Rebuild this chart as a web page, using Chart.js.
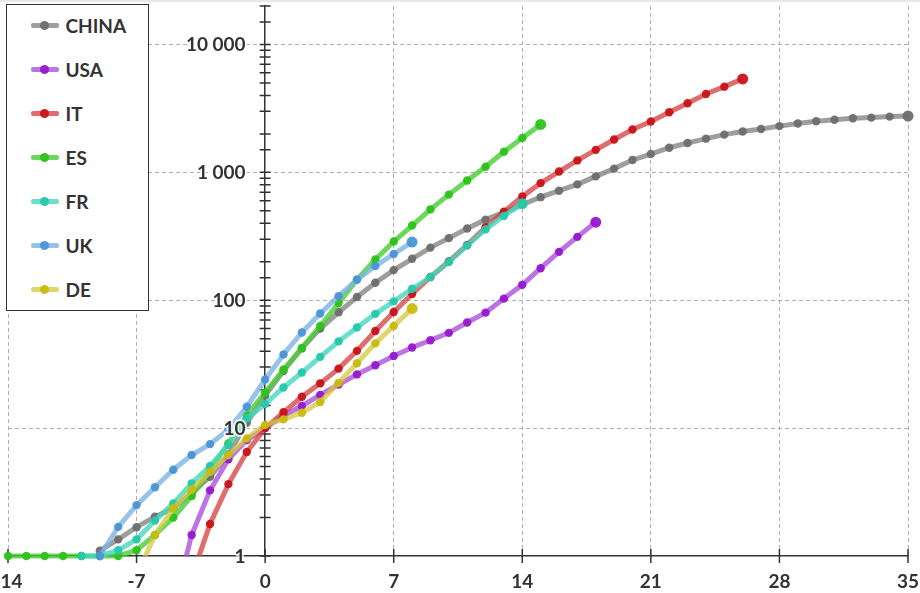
<!DOCTYPE html>
<html lang="en">
<head>
<meta charset="utf-8">
<title>Deaths by day, log scale</title>
<style>
  html, body { margin: 0; padding: 0; background: #fff; }
  #wrap { position: relative; width: 920px; height: 593px; }
  #topline { position: absolute; left: 0; top: 0; width: 920px; height: 2px; background: #e8e8e8; }
  #legend { position: absolute; left: 6px; top: 4px; width: 141px; height: 305px; background: #fff;
            border: 1.5px solid #333; font: bold 19px Lato, sans-serif; color: #333; }
  .item { position: absolute; left: 0; height: 24px; display: flex; align-items: center; }
  .swatch { position: relative; width: 28px; height: 5px; margin-left: 23.5px; margin-right: 7px; border-radius: 2px; }
  .dot { position: absolute; left: 9.5px; top: -2px; width: 9px; height: 9px; border-radius: 50%; }
</style>
</head>
<body>
<div id="wrap">
  <canvas id="chart"></canvas>
  <div id="topline"></div>
  <div id="legend"></div>
</div>

<script src="https://cdn.jsdelivr.net/npm/chart.js@4.4.1/dist/chart.umd.min.js"></script>
<script>
// days since the reference day (0 = 10th death); each series starts at its own day
const xTicks = [-14, -7, 0, 7, 14, 21, 28, 35];
const yTickLabels = ['1', '10', '100', '1 000', '10 000'];

const chinaStart = -9;
const china = [1.1, 1.35, 1.68, 2.03, 2.36, 3.1, 4.17, 6.2, 11, 18, 28, 42, 60, 80.5, 106, 137, 172, 211, 258, 306,
               364, 427, 486, 560, 640, 719, 806, 930, 1070, 1250, 1391, 1559, 1698, 1835, 1974, 2088, 2183, 2300,
               2410, 2510, 2580, 2650, 2680, 2730, 2760];

const usaStart = -5;
const usa = [0.4, 1.46, 3.26, 5.7, 8.06, 10, 12.5, 14.9, 18.2, 21.9, 26.3, 31, 36.7, 42.7, 48.7, 55.6, 67, 80,
             103, 132, 178, 239, 313, 408];

const itStart = -4;
const it = [0.68, 1.78, 3.65, 6.5, 10, 13.3, 17.6, 22.4, 29.2, 40.2, 57.5, 81, 112, 152, 201, 271, 372, 493, 648,
            824, 1015, 1240, 1500, 1806, 2166, 2500, 2950, 3470, 4100, 4680, 5380];

const esStart = -14;
const es = [1, 1, 1, 1, 1, 1, 1, 1.11, 1.46, 2.0, 2.94, 4.7, 7.6, 12.6, 19, 28.7, 42.4, 62.9, 95, 145, 208, 288,
            384, 514, 670, 864, 1107, 1450, 1856, 2371];

const frStart = -10;
const fr = [1, 1, 1.11, 1.35, 1.89, 2.58, 3.7, 5.05, 7.4, 11.9, 15.4, 20.8, 27.2, 36.1, 47.7, 61.3, 78.3, 98, 123,
            152, 199, 268, 358, 456, 569];

const ukStart = -9;
const uk = [1, 1.69, 2.5, 3.45, 4.73, 6.16, 7.5, 9.77, 14.7, 24, 37.7, 56, 78.7, 107.7, 145, 185, 230, 285];

const deStart = -7;
const de = [0.7, 1.46, 2.36, 3.3, 4.55, 6.15, 8.3, 10.6, 11.7, 13.2, 16, 22.6, 32.2, 46, 63, 86];

const series = [
  { name: 'CHINA', start: chinaStart, values: china, line: 'rgba(125,125,125,0.75)', point: 'rgba(110,110,110,0.95)' },
  { name: 'USA',   start: usaStart,   values: usa,   line: 'rgba(165,70,220,0.75)',  point: 'rgba(150,25,205,0.95)' },
  { name: 'IT',    start: itStart,    values: it,    line: 'rgba(212,60,60,0.75)',   point: 'rgba(200,20,25,0.95)' },
  { name: 'ES',    start: esStart,    values: es,    line: 'rgba(70,205,50,0.8)',    point: 'rgba(45,195,25,0.95)' },
  { name: 'FR',    start: frStart,    values: fr,    line: 'rgba(70,215,190,0.8)',   point: 'rgba(40,200,170,0.95)' },
  { name: 'UK',    start: ukStart,    values: uk,    line: 'rgba(125,180,228,0.8)',  point: 'rgba(75,150,215,0.95)' },
  { name: 'DE',    start: deStart,    values: de,    line: 'rgba(212,200,60,0.75)',  point: 'rgba(200,188,15,0.95)' }
];

// html legend (sits on top of the plot, like the original)
const legendEl = document.getElementById('legend');
series.forEach((s, i) => {
  const item = document.createElement('div');
  item.className = 'item';
  item.style.top = (20.5 + i * 44 - 12) + 'px';
  item.innerHTML = '<span class="swatch" style="background:' + s.line + '"><span class="dot" style="background:' +
                   s.point + '"></span></span><span>' + s.name + '</span>';
  legendEl.appendChild(item);
});

const isMajor = v => Math.abs(Math.log10(v) - Math.round(Math.log10(v))) < 1e-9;
const tickFont = { family: 'Lato', size: 19, weight: 'bold' };

// ticks that cross the axis lines on both sides
const crossTicks = {
  id: 'crossTicks',
  beforeDatasetsDraw(chart) {
    const { ctx, scales: { x, y } } = chart;
    const ax = x.getPixelForValue(0);
    const ay = y.bottom;
    ctx.save();
    ctx.strokeStyle = '#333';
    ctx.lineWidth = 1.5;
    ctx.beginPath();
    y.ticks.forEach(t => {
      const py = y.getPixelForValue(t.value);
      ctx.moveTo(ax - 5.5, py);
      ctx.lineTo(ax + 5.5, py);
    });
    x.ticks.forEach(t => {
      const px = x.getPixelForValue(t.value);
      ctx.moveTo(px, ay - 7);
      ctx.lineTo(px, ay + 7);
    });
    ctx.stroke();
    ctx.restore();
  },
  // y labels sit left of the centred axis, with a soft white halo over the lines
  afterDatasetsDraw(chart) {
    const { ctx, scales: { x, y } } = chart;
    const ax = x.getPixelForValue(0);
    ctx.save();
    ctx.font = 'bold 19px Lato';
    ctx.textAlign = 'right';
    ctx.textBaseline = 'middle';
    ctx.lineJoin = 'round';
    y.ticks.forEach(t => {
      if (!isMajor(t.value)) return;
      const py = y.getPixelForValue(t.value) + 0.5;
      const label = yTickLabels[Math.round(Math.log10(t.value))];
      ctx.strokeStyle = 'rgba(255,255,255,0.75)';
      ctx.lineWidth = 4;
      ctx.strokeText(label, ax - 19.5, py);
      ctx.fillStyle = '#333';
      ctx.fillText(label, ax - 19.5, py);
    });
    ctx.restore();
  }
};

new Chart(document.getElementById('chart'), {
  type: 'line',
  data: {
    datasets: series.map((s, i) => ({
      label: s.name,
      data: s.values.map((v, k) => ({ x: s.start + k, y: v })),
      borderColor: s.line,
      backgroundColor: s.point,
      pointBackgroundColor: s.point,
      pointBorderWidth: 0,
      pointRadius: ctx => ctx.dataIndex === s.values.length - 1 ? 5.5 : 4.2,
      borderWidth: 5,
      tension: 0,
      order: series.length - i,
      clip: s.values[0] < 1 ? { left: 6, top: 6, right: 6, bottom: 0 } : 6
    }))
  },
  options: {
    responsive: true,
    maintainAspectRatio: false,
    animation: false,
    layout: { padding: { top: 6, left: 8, right: 12, bottom: 0 } },
    plugins: {
      legend: { display: false },
      tooltip: { enabled: false }
    },
    scales: {
      x: {
        type: 'linear',
        position: 'bottom',
        min: -14,
        max: 35,
        afterBuildTicks: s => { s.ticks = xTicks.map(v => ({ value: v })); },
        afterFit: s => { s.paddingLeft = 0; s.paddingRight = 0; s.height = 37; },
        ticks: { font: tickFont, color: '#333', padding: 14.5, maxRotation: 0, autoSkip: false },
        grid: {
          drawTicks: false,
          color: c => c.tick && c.tick.value === 0 ? 'rgba(0,0,0,0)' : '#b0b0b0',
          lineWidth: 1
        },
        border: { color: '#333', width: 1.5, dash: [4, 3] }
      },
      y: {
        type: 'logarithmic',
        position: { x: 0 },
        min: 1,
        max: 20000,
        afterFit: s => { s.paddingTop = 0; s.paddingBottom = 0; },
        ticks: { display: false, autoSkip: false },
        grid: {
          drawTicks: false,
          color: c => c.tick && isMajor(c.tick.value) && c.tick.value > 1 ? '#b0b0b0' : 'rgba(0,0,0,0)',
          lineWidth: 1
        },
        border: { color: '#333', width: 1.5, dash: [4, 3] }
      }
    }
  },
  plugins: [crossTicks]
});
</script>
</body>
</html>
